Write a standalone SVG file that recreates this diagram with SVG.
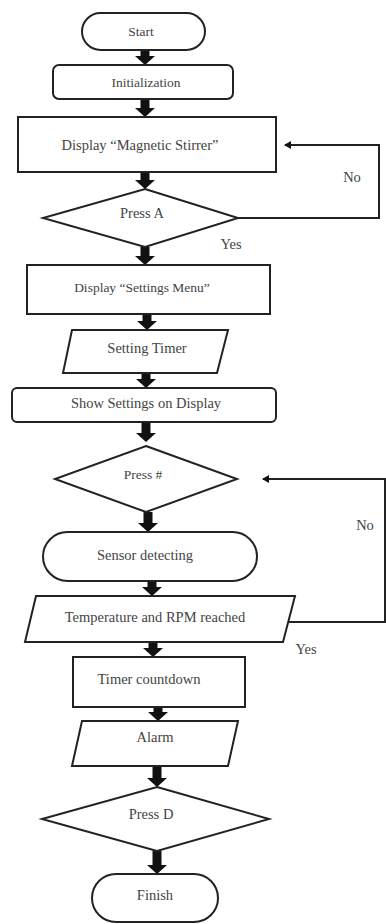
<svg xmlns="http://www.w3.org/2000/svg" width="386" height="924" viewBox="0 0 386 924">
<style>
.shape{fill:#fff;stroke:#222;stroke-width:2}
.lbl{font-family:"Liberation Serif","Times New Roman",serif;font-size:14.5px;fill:#444;text-anchor:middle}
.sm{font-size:13.5px}
.blk{stroke:#111;stroke-width:9;fill:none;marker-end:url(#bh)}
.thin{stroke:#222;stroke-width:2;fill:none;marker-end:url(#th)}
</style>
<defs>
<marker id="bh" markerUnits="userSpaceOnUse" markerWidth="10" markerHeight="20" refX="0" refY="10" orient="auto">
<path d="M0,0 L9,10 L0,20 z" fill="#111"/>
</marker>
<marker id="th" markerUnits="userSpaceOnUse" markerWidth="8" markerHeight="8" refX="6" refY="4" orient="auto">
<path d="M0,0 L7,4 L0,8 z" fill="#111"/>
</marker>
</defs>
<rect width="386" height="924" fill="#fff"/>

<g id="connectors">
<line class="blk" x1="145" y1="50" x2="145" y2="56"/>
<line class="blk" x1="145" y1="99" x2="145" y2="108"/>
<line class="blk" x1="145" y1="172" x2="145" y2="180"/>
<line class="blk" x1="145" y1="247" x2="145" y2="256"/>
<line class="blk" x1="147" y1="314" x2="147" y2="321"/>
<line class="blk" x1="146" y1="373" x2="146" y2="379"/>
<line class="blk" x1="146" y1="422" x2="146" y2="433"/>
<line class="blk" x1="148" y1="512" x2="148" y2="523"/>
<line class="blk" x1="152" y1="581" x2="152" y2="587"/>
<line class="blk" x1="153" y1="642" x2="153" y2="648"/>
<line class="blk" x1="158" y1="707" x2="158" y2="712"/>
<line class="blk" x1="157" y1="766" x2="157" y2="778"/>
<line class="blk" x1="157" y1="851" x2="157" y2="865"/>
<polyline class="thin" points="238,218 379,218 379,145 285,145"/>
<polyline class="thin" points="288,622 385,622 385,479 263,479"/>
<text class="lbl" x="352" y="182">No</text>
<text class="lbl" x="231" y="249">Yes</text>
<text class="lbl" x="365" y="530">No</text>
<text class="lbl" x="306" y="654">Yes</text>
</g>

<g id="start">
<rect class="shape" x="82" y="13" width="123" height="37" rx="18.5"/>
<text class="lbl sm" x="141" y="36">Start</text>
</g>
<g id="init">
<rect class="shape" x="53" y="65" width="180" height="34" rx="6"/>
<text class="lbl sm" x="146" y="87">Initialization</text>
</g>
<g id="display-magnetic">
<rect class="shape" x="18" y="117" width="258" height="55"/>
<text class="lbl" x="140" y="150">Display “Magnetic Stirrer”</text>
</g>
<g id="press-a">
<polygon class="shape" points="145,189 238,218 145,247 43,218"/>
<text class="lbl" x="142" y="218">Press A</text>
</g>
<g id="display-settings">
<rect class="shape" x="27" y="265" width="243" height="49"/>
<text class="lbl sm" x="142" y="292">Display “Settings Menu”</text>
</g>
<g id="setting-timer">
<polygon class="shape" points="72,330 228,330 217,373 63,373"/>
<text class="lbl" x="147" y="353">Setting Timer</text>
</g>
<g id="show-settings">
<rect class="shape" x="12" y="388" width="264" height="34" rx="5"/>
<text class="lbl" x="146" y="408">Show Settings on Display</text>
</g>
<g id="press-hash">
<polygon class="shape" points="146,446 237,479 146,512 55,479"/>
<text class="lbl sm" x="143" y="479">Press #</text>
</g>
<g id="sensor">
<rect class="shape" x="43" y="532" width="214" height="49" rx="24.5"/>
<text class="lbl" x="145" y="560">Sensor detecting</text>
</g>
<g id="temp-rpm">
<polygon class="shape" points="36,596 295,596 283,642 25,642"/>
<text class="lbl" x="155" y="622">Temperature and RPM reached</text>
</g>
<g id="timer-countdown">
<rect class="shape" x="73" y="657" width="172" height="50"/>
<text class="lbl" x="149" y="684">Timer countdown</text>
</g>
<g id="alarm">
<polygon class="shape" points="82,721 238,721 228,766 72,766"/>
<text class="lbl" x="155" y="742">Alarm</text>
</g>
<g id="press-d">
<polygon class="shape" points="157,787 269,819 157,851 42,819"/>
<text class="lbl" x="151" y="819">Press D</text>
</g>
<g id="finish">
<rect class="shape" x="92" y="874" width="126" height="48" rx="24"/>
<text class="lbl" x="155" y="900">Finish</text>
</g>
</svg>
